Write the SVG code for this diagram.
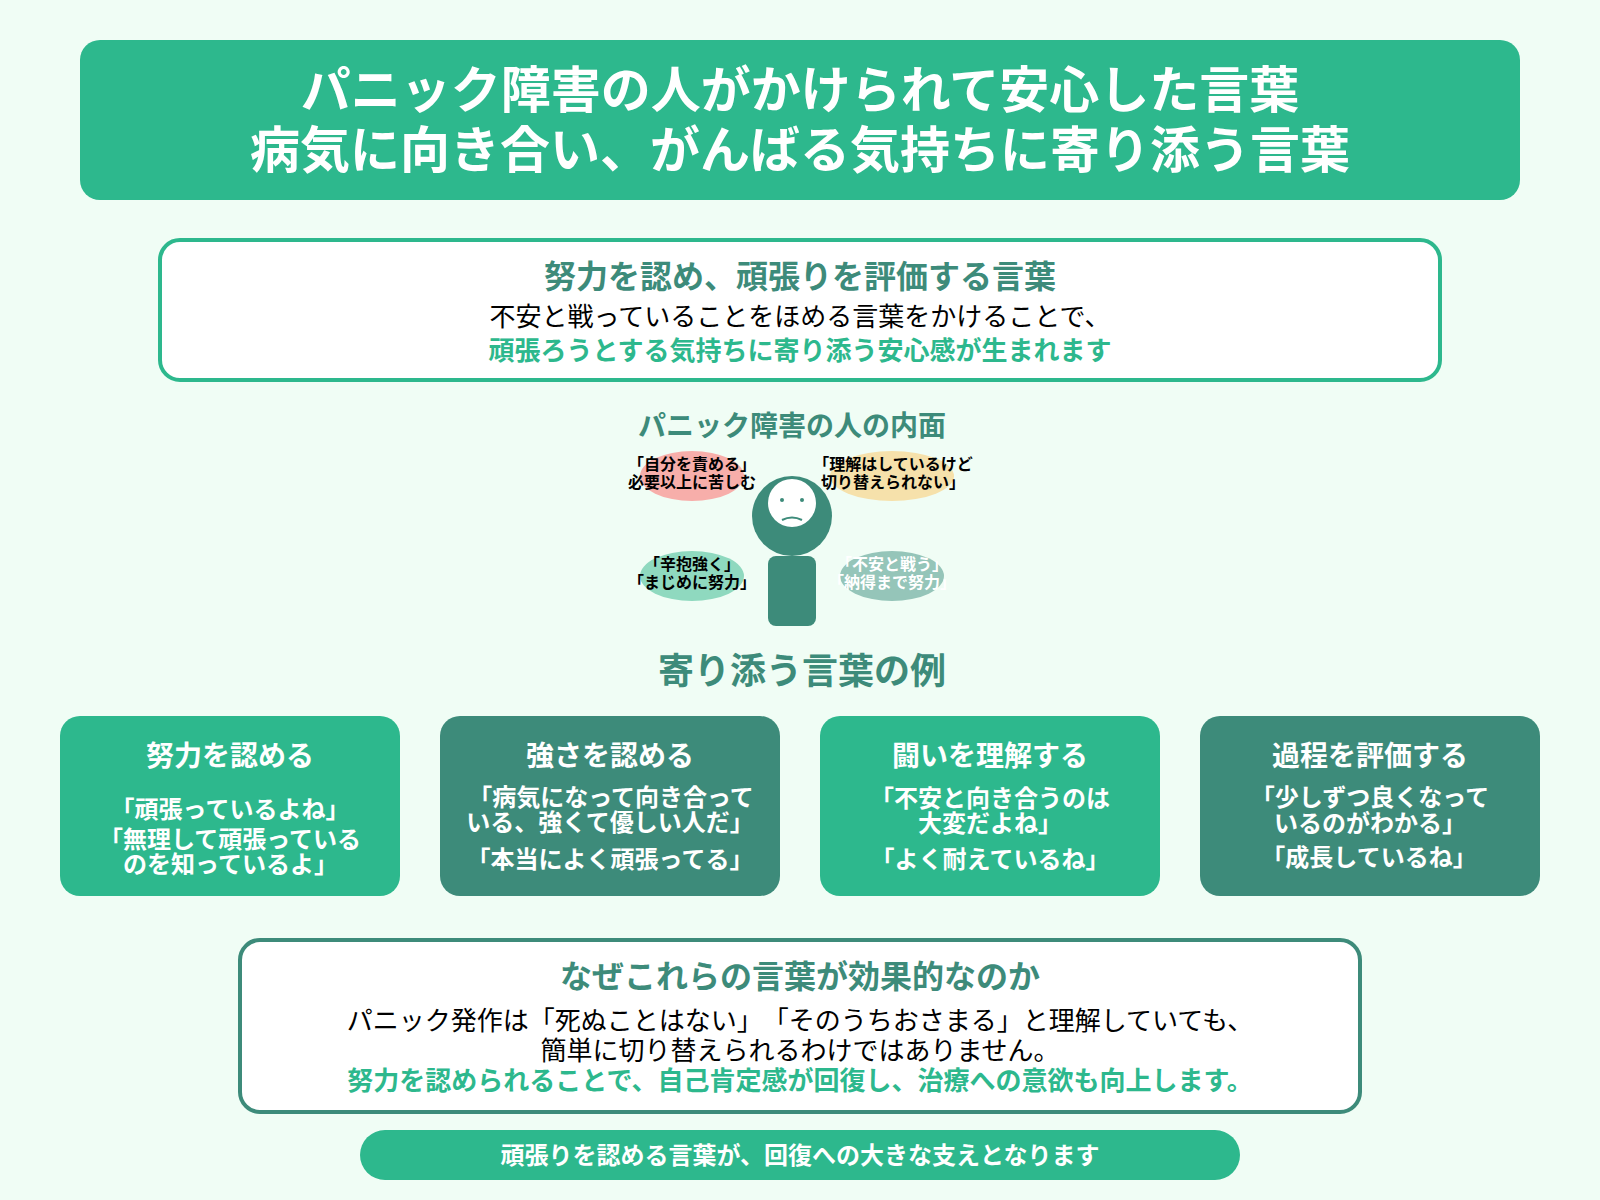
<svg xmlns="http://www.w3.org/2000/svg" width="1600" height="1200" viewBox="0 0 1600 1200">
<style>
text{font-family:"Noto Sans CJK JP","Noto Sans",sans-serif;text-anchor:middle;text-spacing-trim:space-all}
.b{font-weight:700}
.w{fill:#fff}
.g{fill:#3d8b7a}
.t{fill:#2db88d}
.k{fill:#000}
.s{font-size:16px;font-weight:700}
.ct{font-size:28px;font-weight:700;fill:#fff}
.cb{font-size:24px;font-weight:700;fill:#fff}
</style>
<rect width="1600" height="1200" fill="#f0fdf5"/>
<g id="title"><rect x="80" y="40" width="1440" height="160" rx="20" fill="#2db88d"/>
<text class="b w" x="800" y="108" font-size="50">パニック障害の人がかけられて安心した言葉</text>
<text class="b w" x="800" y="168" font-size="50">病気に向き合い、がんばる気持ちに寄り添う言葉</text></g>
<g id="intro"><rect x="160" y="240" width="1280" height="140" rx="20" fill="#fff" stroke="#2db88d" stroke-width="4"/>
<text class="b g" x="800" y="288" font-size="32">努力を認め、頑張りを評価する言葉</text>
<text class="k" x="800" y="326" font-size="26">不安と戦っていることをほめる言葉をかけることで、</text>
<text class="b t" x="800" y="360" font-size="26">頑張ろうとする気持ちに寄り添う安心感が生まれます</text></g>
<g id="inner"><text class="b g" x="792" y="436" font-size="28">パニック障害の人の内面</text>
<ellipse cx="692" cy="476" rx="52" ry="25" fill="#f7aeaa"/>
<ellipse cx="892" cy="476" rx="62" ry="25" fill="#f6e1ab"/>
<ellipse cx="692" cy="576" rx="52" ry="25" fill="#8fd9bf"/>
<ellipse cx="892" cy="576" rx="52" ry="25" fill="#95c5b9"/>
<circle cx="792" cy="516" r="40" fill="#3d8b7a"/>
<circle cx="792" cy="503" r="24" fill="#fff"/>
<circle cx="782" cy="500" r="2" fill="#3d8b7a"/><circle cx="802" cy="500" r="2" fill="#3d8b7a"/>
<path d="M782 520Q792 515 802 520" fill="none" stroke="#3d8b7a" stroke-width="2"/>
<rect x="768" y="556" width="48" height="70" rx="8" fill="#3d8b7a"/>
<text class="s k" x="692" y="470">「自分を責める」</text><text class="s k" x="692" y="488">必要以上に苦しむ</text>
<text class="s k" x="893" y="470">「理解はしているけど</text><text class="s k" x="893" y="488">切り替えられない」</text>
<text class="s k" x="692" y="570">「辛抱強く」</text><text class="s k" x="692" y="588">「まじめに努力」</text>
<text class="s w" x="892" y="570">「不安と戦う」</text><text class="s w" x="892" y="588">「納得まで努力」</text></g>
<text class="b g" x="802" y="684" font-size="36">寄り添う言葉の例</text>
<g id="card1"><rect x="60" y="716" width="340" height="180" rx="20" fill="#2db88d"/>
<text class="ct" x="230" y="766">努力を認める</text>
<text class="cb" x="230" y="818">「頑張っているよね」</text><text class="cb" x="230" y="848">「無理して頑張っている</text><text class="cb" x="230.5" y="873">のを知っているよ」</text></g>
<g id="card2"><rect x="440" y="716" width="340" height="180" rx="20" fill="#3d8b7a"/>
<text class="ct" x="610" y="766">強さを認める</text>
<text class="cb" x="611" y="806">「病気になって向き合って</text><text class="cb" x="610" y="831">いる、強くて優しい人だ」</text><text class="cb" x="610" y="868">「本当によく頑張ってる」</text></g>
<g id="card3"><rect x="820" y="716" width="340" height="180" rx="20" fill="#2db88d"/>
<text class="ct" x="990" y="766">闘いを理解する</text>
<text class="cb" x="990" y="807">「不安と向き合うのは</text><text class="cb" x="990" y="832">大変だよね」</text><text class="cb" x="990" y="868">「よく耐えているね」</text></g>
<g id="card4"><rect x="1200" y="716" width="340" height="180" rx="20" fill="#3d8b7a"/>
<text class="ct" x="1370" y="766">過程を評価する</text>
<text class="cb" x="1370" y="806">「少しずつ良くなって</text><text class="cb" x="1370" y="832">いるのがわかる」</text><text class="cb" x="1369" y="866">「成長しているね」</text></g>
<g id="why"><rect x="240" y="940" width="1120" height="172" rx="20" fill="#fff" stroke="#3d8b7a" stroke-width="4"/>
<text class="b g" x="800" y="988" font-size="32">なぜこれらの言葉が効果的なのか</text>
<text class="k" x="800" y="1030" font-size="26">パニック発作は「死ぬことはない」「そのうちおさまる」と理解していても、</text>
<text class="k" x="800" y="1060" font-size="26">簡単に切り替えられるわけではありません。</text>
<text class="b t" x="800" y="1090" font-size="26">努力を認められることで、自己肯定感が回復し、治療への意欲も向上します。</text></g>
<g id="footer"><rect x="360" y="1130" width="880" height="50" rx="25" fill="#2db88d"/>
<text class="b w" x="800" y="1164" font-size="24">頑張りを認める言葉が、回復への大きな支えとなります</text></g>
</svg>
